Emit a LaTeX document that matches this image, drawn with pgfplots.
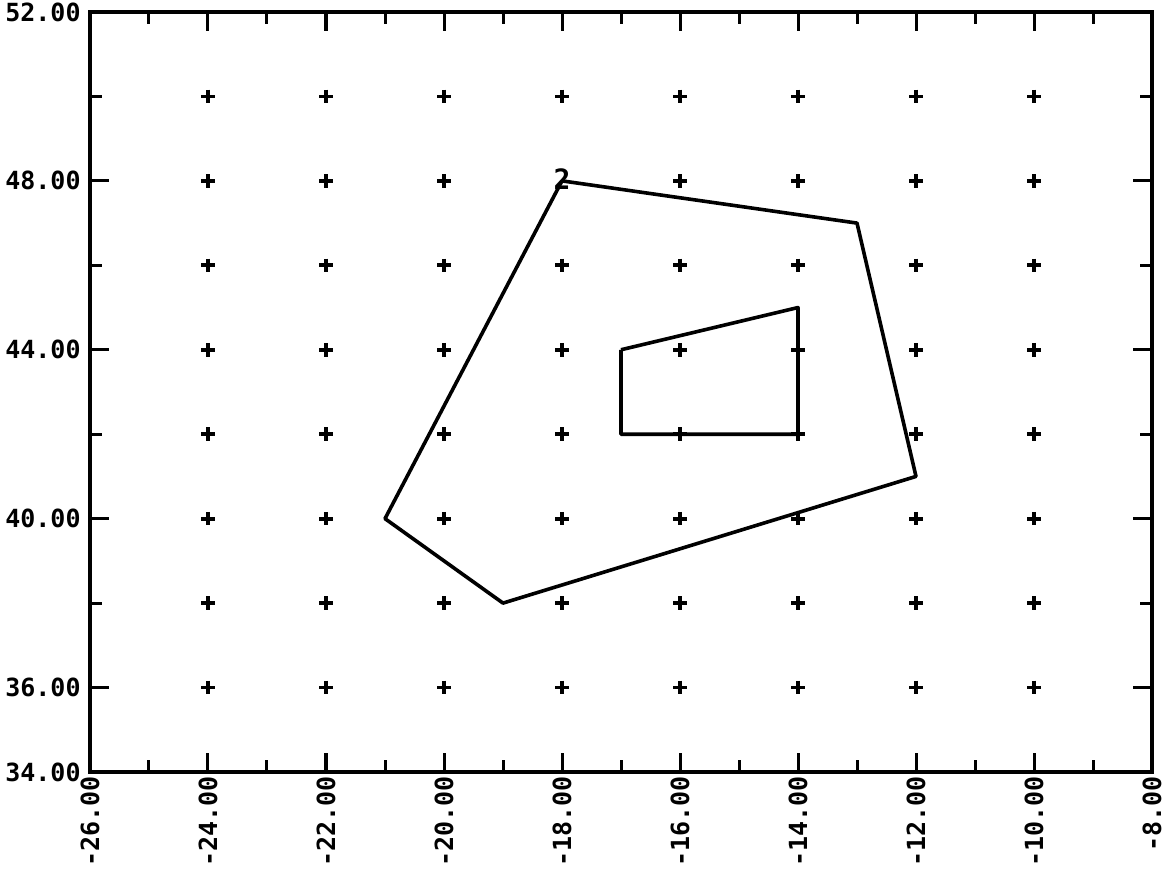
\documentclass[border=0pt]{standalone}
\usepackage{pgfplots}
\pgfplotsset{compat=1.18}
\usepackage{fontspec}
\setmainfont{DejaVu Sans Mono}
\begin{document}
\begin{tikzpicture}
\begin{axis}[
  scale only axis,
  width=531pt, height=380pt,
  xmin=-26, xmax=-8, ymin=34, ymax=52,
  axis line style={line width=1.7pt},
  xtick={-26,-24,...,-8},
  xticklabels={-26.00,-24.00,-22.00,-20.00,-18.00,-16.00,-14.00,-12.00,-10.00,-8.00},
  minor xtick={-25,-23,...,-9},
  ytick={34,36,40,44,48,52},
  yticklabels={34.00,36.00,40.00,44.00,48.00,52.00},
  minor ytick={38,42,46,50},
  tick align=inside,
  major tick length=9.5pt,
  minor tick length=6pt,
  every tick/.style={line width=1.5pt, black},
  x tick label style={rotate=90, anchor=east, font=\fontsize{12.5}{12.5}\selectfont\bfseries},
  y tick label style={font=\fontsize{12.5}{12.5}\selectfont\bfseries},
  xticklabel shift=1pt,
  yticklabel shift=3.5pt,
  tick label style={inner sep=1pt},
  clip=false,
]
\addplot[only marks, mark=+, mark size=3.4pt, mark options={line width=1.9pt}] table {
x y
-24 50
-22 50
-20 50
-18 50
-16 50
-14 50
-12 50
-10 50
-24 48
-22 48
-20 48
-16 48
-14 48
-12 48
-10 48
-24 46
-22 46
-20 46
-18 46
-16 46
-14 46
-12 46
-10 46
-24 44
-22 44
-20 44
-18 44
-16 44
-14 44
-12 44
-10 44
-24 42
-22 42
-20 42
-18 42
-16 42
-14 42
-12 42
-10 42
-24 40
-22 40
-20 40
-18 40
-16 40
-14 40
-12 40
-10 40
-24 38
-22 38
-20 38
-18 38
-16 38
-14 38
-12 38
-10 38
-24 36
-22 36
-20 36
-18 36
-16 36
-14 36
-12 36
-10 36
};
\addplot[black, line width=1.8pt, mark=none, line join=round] coordinates {
(-18,48) (-13,47) (-12,41) (-19,38) (-21,40) (-18,48)
};
\addplot[black, line width=1.8pt, mark=none, line join=round] coordinates {
(-17,44) (-14,45) (-14,42) (-17,42) (-17,44)
};
\addplot[draw=none, mark=none, nodes near coords={2},
  every node near coord/.style={anchor=center, font=\fontsize{14}{14}\selectfont\bfseries, yshift=1pt}]
  coordinates {(-18,48)};
\end{axis}
\pgfresetboundingbox
\path (current axis.south west) ++(-45pt,-49pt) coordinate (bl);
\path (current axis.north east) ++(8pt,6pt) coordinate (tr);
\path (bl) rectangle (tr);
\end{tikzpicture}
\end{document}
